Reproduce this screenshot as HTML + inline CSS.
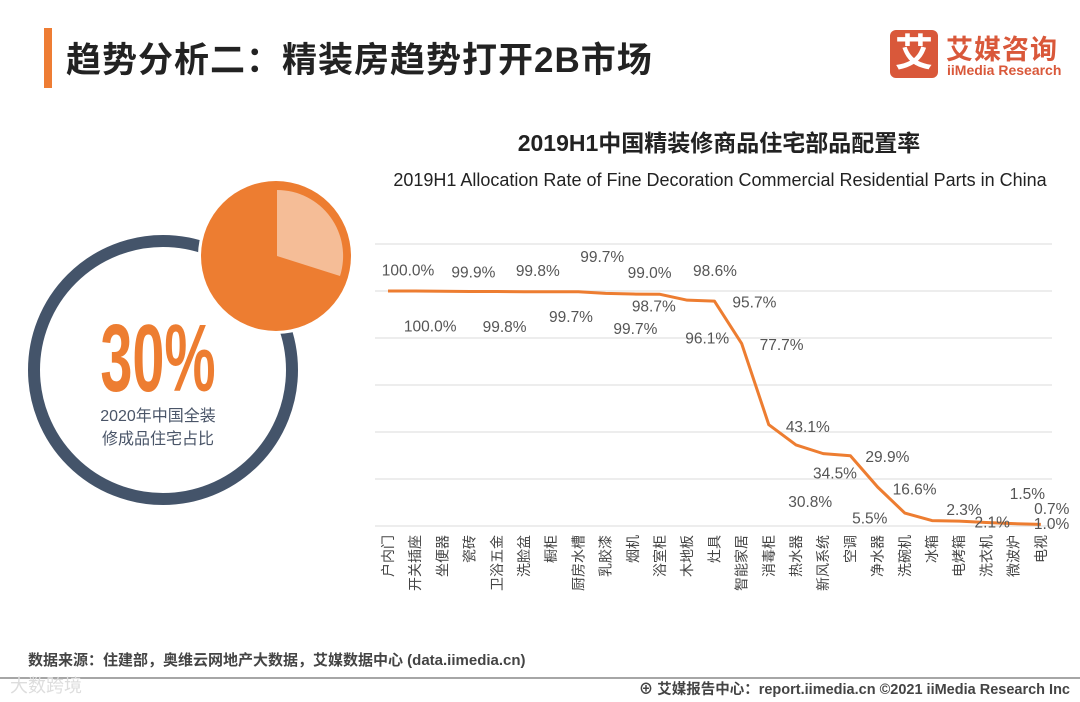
<!DOCTYPE html>
<html><head><meta charset="utf-8">
<style>
body{margin:0;background:#fff;}
#wrap{position:relative;width:1080px;height:702px;overflow:hidden;font-family:"Liberation Sans","Noto Sans CJK SC",sans-serif;}
.abs{position:absolute;}
</style></head>
<body>
<div id="wrap">
<div class="abs" style="left:44px;top:28px;width:8px;height:60px;background:#ee7d34;"></div>
<div class="abs" style="left:66px;top:32px;font-size:35px;font-weight:bold;color:#222;letter-spacing:1px;">趋势分析二：精装房趋势打开2B市场</div>
<div class="abs" style="left:890px;top:30px;width:190px;height:52px;">
  <div style="position:absolute;left:0;top:0;width:48px;height:48px;background:#d9583a;border-radius:6px;color:#fff;font-size:38px;font-weight:bold;text-align:center;line-height:48px;">艾</div>
  <div style="position:absolute;left:56px;top:-2px;font-size:27px;font-weight:bold;color:#d9583a;letter-spacing:1px;">艾媒咨询</div>
  <div style="position:absolute;left:57px;top:32px;font-size:14px;font-weight:bold;color:#d9583a;">iiMedia Research</div>
</div>

<svg class="abs" style="left:0;top:0" width="1080" height="702">
  <circle cx="163" cy="370" r="129" fill="none" stroke="#44546a" stroke-width="12"/>
  <circle cx="276" cy="256" r="78" fill="#fff"/>
  <circle cx="276" cy="256" r="75" fill="#ed7d31"/>
  <path d="M277 256 L277 190 A66 66 0 0 1 340 276 Z" fill="#f5bd97"/>
  <text x="158" y="391" text-anchor="middle" font-size="96" font-weight="bold" fill="#ed7d31" transform="translate(158 0) scale(0.6 1) translate(-158 0)" font-family="Liberation Sans">30%</text>
  <text x="158" y="421" text-anchor="middle" font-size="16" fill="#4a5568">2020年中国全装</text>
  <text x="158" y="444" text-anchor="middle" font-size="16" fill="#4a5568">修成品住宅占比</text>
  <text x="719" y="151" text-anchor="middle" font-size="23" font-weight="bold" fill="#222">2019H1中国精装修商品住宅部品配置率</text>
  <text x="720" y="186" text-anchor="middle" font-size="18" fill="#222">2019H1 Allocation Rate of Fine Decoration Commercial Residential Parts in China</text>
  <g id="chart"></g>
  <text x="28" y="665" font-size="15" font-weight="bold" fill="#444">数据来源：住建部，奥维云网地产大数据，艾媒数据中心 (data.iimedia.cn)</text>
  <line x1="0" y1="678" x2="1080" y2="678" stroke="#888" stroke-width="1.5"/>
  <text x="10" y="692" font-size="18" fill="#ddd">大数跨境</text>
  <text x="1070" y="694" text-anchor="end" font-size="14.5" font-weight="bold" fill="#444">⊕ 艾媒报告中心：report.iimedia.cn  ©2021  iiMedia Research  Inc</text>
</svg>
</div>
<script>
const categories=["户内门","开关插座","坐便器","瓷砖","卫浴五金","洗脸盆","橱柜","厨房水槽","乳胶漆","烟机","浴室柜","木地板","灶具","智能家居","消毒柜","热水器","新风系统","空调","净水器","洗碗机","冰箱","电烤箱","洗衣机","微波炉","电视"];
const values=[100.0,100.0,99.9,99.8,99.8,99.7,99.7,99.7,99.0,98.7,98.6,96.1,95.7,77.7,43.1,34.5,30.8,29.9,16.6,5.5,2.3,2.1,1.5,1.0,0.7];
const yTicks=[0,20,40,60,80,100,120];
const labelOffsets=[[20,-21],[15,35],[31,-19],[35,35],[41,-21],[47,25],[51,-35],[57,37],[44,-21],[21,12],[55,-24],[20,38],[40,1],[40,1],[39,2],[39,28],[-13,48],[37,1],[37,2],[-35,5],[32,-11],[33,1],[41,-29],[38,0],[11,-16]];
const ns="http://www.w3.org/2000/svg";
const g=document.getElementById('chart');
const x0=388,step=27.2,yBase=526,yPer=2.35;
const X=i=>x0+i*step, Y=v=>yBase-v*yPer;
function mk(t,a){const e=document.createElementNS(ns,t);for(const k in a)e.setAttribute(k,a[k]);g.appendChild(e);return e;}
yTicks.forEach(t=>{const l=mk('line',{x1:375,x2:1052,y1:Y(t),y2:Y(t),stroke:'#e2e2e2','stroke-width':1.3});

});
const p=mk('polyline',{points:values.map((v,i)=>X(i)+','+Y(v)).join(' '),fill:'none',stroke:'#ed7d31','stroke-width':3,'stroke-linejoin':'round'});


values.forEach((v,i)=>{const o=labelOffsets[i];
const t=mk('text',{x:X(i)+o[0],y:Y(v)+o[1]+5.5,'text-anchor':'middle','font-size':15.5,fill:'#555'});
t.textContent=v.toFixed(1)+'%';

});
categories.forEach((c,i)=>{
const t=mk('text',{x:X(i)+5,y:535,'font-size':14,fill:'#444',transform:`rotate(-90 ${X(i)+5} 535)`,'text-anchor':'end'});
t.textContent=c;

});
</script>
</body></html>
